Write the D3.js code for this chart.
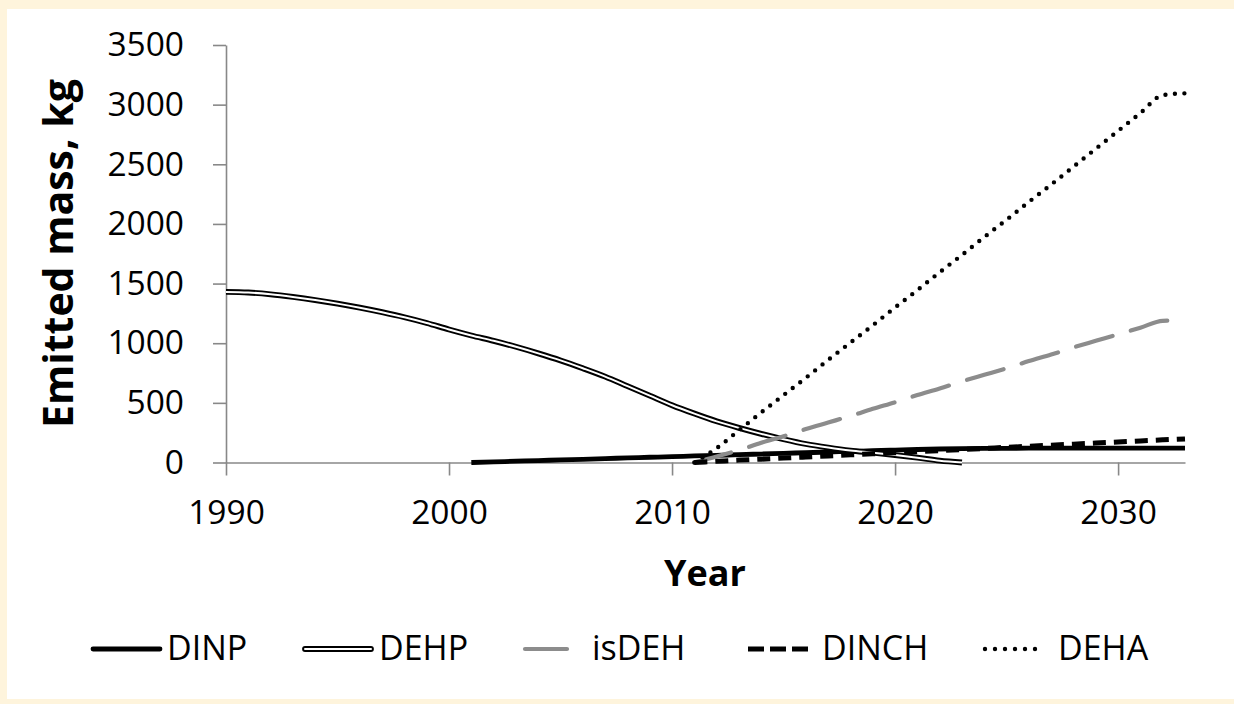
<!DOCTYPE html>
<html>
<head>
<meta charset="utf-8">
<script src="https://cdn.jsdelivr.net/npm/d3@7/dist/d3.min.js"></script>
<style>
  html, body { margin: 0; padding: 0; background: #fef4dc; }
  svg { display: block; }
  text { font-family: "Open Sans", "Noto Sans", sans-serif; fill: #000; }
</style>
</head>
<body>
<svg id="chart" width="1234" height="704"></svg>
<script>
// Emitted mass of plasticisers per year (kg)
const xTicks = [1990, 2000, 2010, 2020, 2030];
const yTicks = [0, 500, 1000, 1500, 2000, 2500, 3000, 3500];

// each series starts at its first year; values are consecutive yearly estimates
const dinpStart = 2001;
const dinpValues = [0, 5, 11, 16, 22, 27, 33, 38, 44, 49, 55, 60, 66, 71, 77, 82, 88, 93, 99, 104,
  109, 113, 116, 118, 119, 120, 120, 120, 120, 120, 120, 120, 120];

const dehpStart = 1990;
const dehpValues = [1430, 1425, 1410, 1388, 1362, 1332, 1298, 1260, 1218, 1170, 1115,
  1065, 1020, 970, 915, 856, 790, 720, 640, 560, 480,
  410, 345, 290, 240, 195, 155, 125, 100, 82, 62, 40, 15, 0];

const isdehStart = 2011;
const isdehValues = [0, 50, 105, 165, 220, 280, 335, 390, 450, 505, 565, 620, 680, 735, 790,
  850, 905, 965, 1020, 1075, 1130, 1188, 1192];

const dinchStart = 2011;
const dinchValues = [0, 10, 20, 28, 37, 46, 55, 64, 73, 82, 91, 100, 109, 118, 127, 136,
  145, 154, 163, 172, 181, 190, 198];

const dehaStart = 2011;
const dehaValues = [0, 120, 270, 420, 565, 710, 860, 1005, 1150, 1300, 1445, 1595, 1740,
  1890, 2035, 2185, 2330, 2480, 2630, 2780, 2930, 3080, 3095];

const seriesNames = ["DINP", "DEHP", "isDEH", "DINCH", "DEHA"];

const toPoints = (start, values) => values.map((v, i) => ({ year: start + i, value: v }));
const series = [
  { name: "DINP",  pts: toPoints(dinpStart, dinpValues) },
  { name: "DEHP",  pts: toPoints(dehpStart, dehpValues) },
  { name: "isDEH", pts: toPoints(isdehStart, isdehValues) },
  { name: "DINCH", pts: toPoints(dinchStart, dinchValues) },
  { name: "DEHA",  pts: toPoints(dehaStart, dehaValues) }
];

// stroke styles; DEHP is a double line (black outline with white core)
const styles = {
  DINP:  [{ stroke: "#000", width: 4.8 }],
  DEHP:  [{ stroke: "#000", width: 5.8 }, { stroke: "#fff", width: 2 }],
  isDEH: [{ stroke: "#8c8c8c", width: 4.2, dash: "38 19", cap: "round", legendDash: null }],
  DINCH: [{ stroke: "#000", width: 5, dash: "13 8", cap: "butt", legendDash: "16 6" }],
  DEHA:  [{ stroke: "#000", width: 4.4, dash: "0 9.5", cap: "round", legendDash: "0 10" }]
};

const svg = d3.select("#chart");

// white panel on the cream page
svg.append("rect").attr("x", 7).attr("y", 9).attr("width", 1227).attr("height", 690).attr("fill", "#fff");

const x = d3.scaleLinear().domain([1990, 2033]).range([226, 1185]);
const y = d3.scaleLinear().domain([0, 3500]).range([462.5, 45]);

const axisColor = "#888";

// y axis
const yAxis = svg.append("g").attr("transform", `translate(${x(1990)},0)`)
  .call(d3.axisLeft(y).tickValues(yTicks).tickSize(13).tickSizeOuter(0).tickPadding(29).tickFormat(d3.format("d")));
yAxis.select(".domain").attr("stroke", axisColor).attr("stroke-width", 1.6);
yAxis.selectAll(".tick line").attr("stroke", axisColor).attr("stroke-width", 1.6);
yAxis.selectAll(".tick text").attr("font-size", 33.5).attr("fill", "#000").attr("font-family", "Open Sans");

// x axis
const xAxis = svg.append("g").attr("transform", `translate(0,${y(0)})`)
  .call(d3.axisBottom(x).tickValues(xTicks).tickSize(13).tickSizeOuter(0).tickPadding(25).tickFormat(d3.format("d")));
xAxis.select(".domain").attr("stroke", axisColor).attr("stroke-width", 1.6);
xAxis.selectAll(".tick line").attr("stroke", axisColor).attr("stroke-width", 1.6);
xAxis.selectAll(".tick text").attr("font-size", 33.5).attr("fill", "#000").attr("font-family", "Open Sans");

// axis titles
svg.append("text")
  .attr("transform", `translate(73,${(45 + 462) / 2}) rotate(-90)`)
  .attr("text-anchor", "middle")
  .attr("font-size", 41).attr("font-weight", 700)
  .text("Emitted mass, kg");

svg.append("text")
  .attr("x", 705).attr("y", 586)
  .attr("text-anchor", "middle")
  .attr("font-size", 36).attr("font-weight", 700)
  .text("Year");

// series lines
const line = d3.line().curve(d3.curveMonotoneX).x(d => x(d.year)).y(d => y(d.value));
const plot = svg.append("g");
series.forEach(s => {
  styles[s.name].forEach(st => {
    plot.append("path")
      .datum(s.pts)
      .attr("d", line)
      .attr("fill", "none")
      .attr("stroke", st.stroke)
      .attr("stroke-width", st.width)
      .attr("stroke-dasharray", st.dash || null)
      .attr("stroke-linecap", st.cap || "butt")
      .attr("stroke-linejoin", "round");
  });
});

// legend
const legendItems = [
  { name: "DINP",  x0: 93,  x1: 160, tx: 167 },
  { name: "DEHP",  x0: 305, x1: 371, tx: 379 },
  { name: "isDEH", x0: 525, x1: 567, tx: 592 },
  { name: "DINCH", x0: 748, x1: 808, tx: 822 },
  { name: "DEHA",  x0: 985, x1: 1045, tx: 1058 }
];
const legendY = 649;
const legend = svg.append("g");
legendItems.forEach(item => {
  styles[item.name].forEach(st => {
    legend.append("line")
      .attr("x1", item.x0).attr("x2", item.x1)
      .attr("y1", legendY).attr("y2", legendY)
      .attr("stroke", st.stroke)
      .attr("stroke-width", st.width)
      .attr("stroke-dasharray", st.legendDash || null)
      .attr("stroke-linecap", st.dash ? st.cap : "round");
  });
  legend.append("text")
    .attr("x", item.tx).attr("y", 660)
    .attr("font-size", 34)
    .text(item.name);
});
</script>
</body>
</html>
